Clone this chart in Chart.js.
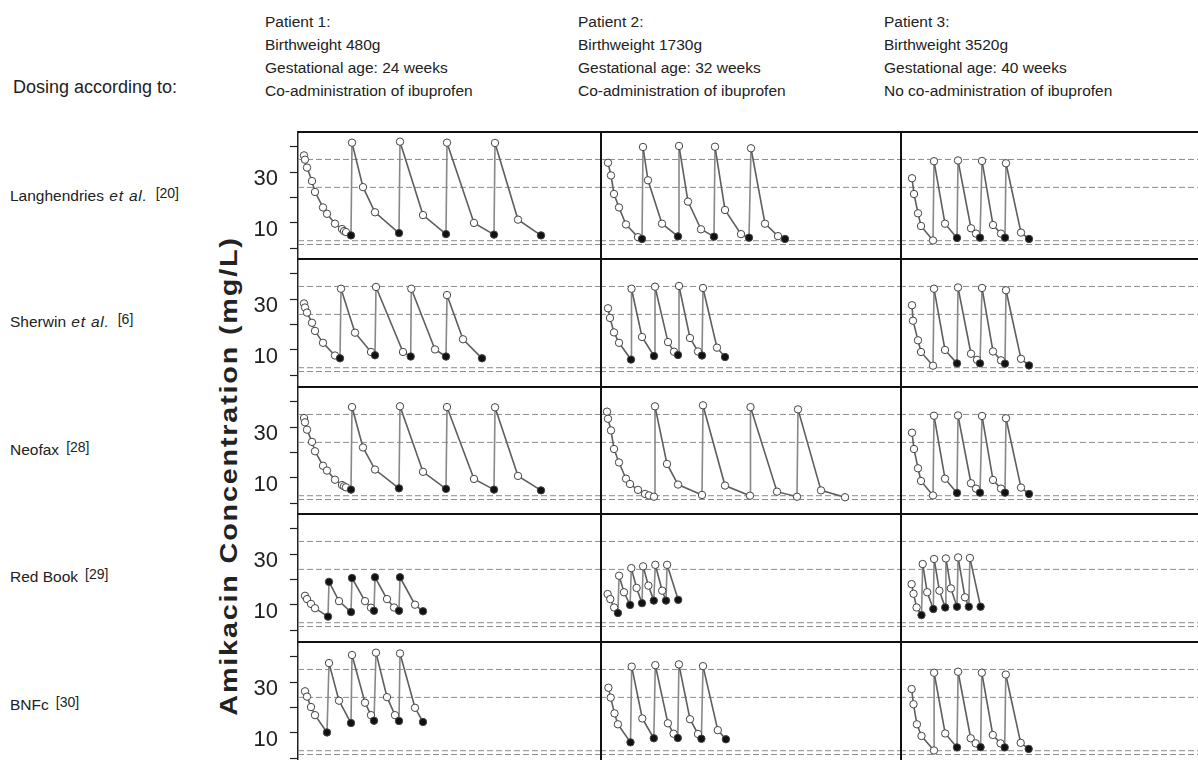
<!DOCTYPE html>
<html>
<head>
<meta charset="utf-8">
<script src="https://cdn.jsdelivr.net/npm/chart.js@4.4.1/dist/chart.umd.min.js"></script>
<style>
  body { margin: 0; width: 1198px; height: 760px; overflow: hidden; background: #fff;
         font-family: Arial, "Liberation Sans", sans-serif; color: #222; position: relative; }
  .hdr { position: absolute; top: 10px; font-size: 15.5px; line-height: 23px; white-space: nowrap; }
  .lab { position: absolute; left: 10px; font-size: 15.5px; white-space: nowrap; }
  .lab i { margin: 0 1px; letter-spacing: 0.8px; }
  .lab sup { font-size: 14px; vertical-align: 3px; margin-left: 7px; }
  .cell { position: absolute; }
  #ytitle { position: absolute; left: 229px; top: 476px; transform: translate(-50%, -50%) rotate(-90deg) scaleX(1.2);
            font-weight: bold; font-size: 24px; letter-spacing: 1.5px; white-space: nowrap; }
</style>
</head>
<body>
<div class="lab" style="left:13px;top:77px;font-size:18px">Dosing according to:</div>
<div class="hdr" style="left:265px">Patient 1:<br>Birthweight 480g<br>Gestational age: 24 weeks<br>Co-administration of ibuprofen</div>
<div class="hdr" style="left:578px">Patient 2:<br>Birthweight 1730g<br>Gestational age: 32 weeks<br>Co-administration of ibuprofen</div>
<div class="hdr" style="left:884px">Patient 3:<br>Birthweight 3520g<br>Gestational age: 40 weeks<br>No co-administration of ibuprofen</div>

<div class="lab" style="top:185px">Langhendries <i>et al.</i><sup>[20]</sup></div>
<div class="lab" style="top:311px">Sherwin <i>et al.</i><sup>[6]</sup></div>
<div class="lab" style="top:439px">Neofax<sup>[28]</sup></div>
<div class="lab" style="top:566px">Red Book<sup>[29]</sup></div>
<div class="lab" style="top:694px">BNFc<sup>[30]</sup></div>
<div id="ytitle">Amikacin Concentration (mg/L)</div>

<script>
// time since first dose (h) / amikacin concentration (mg/L) / indices of trough (filled) points
const langP1Hours = [6, 7, 9, 14, 17, 25, 29, 37, 44, 46, 48, 53, 54, 65, 77, 101, 102, 125, 148, 149, 176, 196, 197, 220, 243];
const langP1Conc  = [36.6, 34.9, 31.8, 26.5, 22.2, 16.1, 13.6, 9.7, 7.6, 6.8, 6.4, 5.1, 41.6, 24.1, 14.2, 6.0, 42.0, 13.1, 5.6, 41.6, 10.0, 5.4, 41.5, 11.3, 5.1];
const langP1Filled = [11, 15, 18, 21, 24];

const langP2Hours = [8, 11, 14, 19, 26, 38, 42, 43, 48, 62, 78, 79, 88, 101, 114, 115, 125, 141, 149, 151, 165, 178, 185];
const langP2Conc  = [33.7, 28.7, 21.4, 16.1, 9.4, 4.4, 3.7, 39.9, 26.8, 9.7, 4.7, 40.3, 18.4, 7.5, 4.6, 40.0, 15.1, 5.6, 4.2, 39.4, 9.7, 4.8, 3.7];
const langP2Filled = [6, 10, 14, 18, 22];

const langP3Hours = [12, 14, 18, 21, 33, 34, 45, 57, 58, 71, 76, 80, 82, 93, 101, 105, 106, 121, 129];
const langP3Conc  = [27.6, 21.4, 13.8, 8.8, 3.1, 34.3, 9.7, 4.1, 34.6, 7.9, 5.8, 4.2, 34.4, 9.2, 5.8, 4.2, 33.5, 6.2, 3.7];
const langP3Filled = [7, 11, 15, 18];

const sherP1Hours = [6, 7, 9, 14, 17, 25, 37, 42, 43, 57, 73, 77, 78, 105, 112.7, 113.3, 137, 148, 149, 165, 184];
const sherP1Conc  = [28.3, 26.7, 24.7, 20.7, 17.5, 12.8, 7.8, 6.7, 34.1, 16.8, 9.2, 7.9, 34.8, 9.2, 7.4, 34.1, 10.2, 7.4, 31.6, 14.2, 6.7];
const sherP1Filled = [7, 11, 14, 17, 20];

const sherP2Hours = [8, 10, 14, 19, 31, 31.5, 42, 54, 55, 68, 74, 78, 79, 90, 98, 102, 103, 117, 125];
const sherP2Conc  = [26.4, 22.6, 16.9, 12.8, 6.2, 34.1, 15.1, 7.6, 34.9, 13.1, 9.3, 8.0, 35.2, 14.7, 9.4, 7.8, 34.4, 10.9, 7.2];
const sherP2Filled = [4, 7, 11, 15, 18];

const sherP3Hours = [12, 13, 18, 21, 33, 34, 45, 57, 58, 71, 77, 80, 82, 93, 101, 105, 106, 121, 129];
const sherP3Conc  = [27.6, 21.5, 13.8, 9.2, 3.8, 34.1, 10.0, 4.7, 34.6, 8.5, 6.1, 4.7, 34.4, 9.4, 5.9, 4.6, 33.5, 6.5, 3.9];
const sherP3Filled = [7, 11, 15, 18];

const neoP1Hours = [6, 7, 9, 14, 17, 25, 29, 37, 44, 46, 48, 53, 54, 65, 77, 101, 102, 125, 148, 149, 176, 196, 197, 220, 243];
const neoP1Conc  = [33.6, 31.9, 29.0, 24.2, 20.5, 14.8, 12.9, 9.3, 7.2, 6.7, 6.3, 5.4, 37.9, 22.0, 13.3, 5.9, 38.2, 12.4, 5.7, 37.9, 9.6, 5.4, 37.8, 10.8, 5.1];
const neoP1Filled = [11, 15, 18, 21, 24];

const neoP2Hours = [7, 8, 11, 14, 19, 26, 30, 38, 45, 49, 54, 55, 67, 78, 102, 103, 125, 150, 150.5, 177, 197, 198, 221, 245];
const neoP2Conc  = [36.1, 33.3, 28.7, 21.4, 16.1, 9.7, 7.6, 5.3, 3.7, 3.1, 2.6, 38.2, 15.5, 7.4, 3.3, 38.6, 7.0, 3.0, 37.9, 4.6, 2.6, 37.0, 5.1, 2.4];
const neoP2Filled = [];

const neoP3Hours = [12, 14, 18, 21, 33, 34, 45, 57, 58, 71, 76, 80, 82, 93, 101, 105, 106, 121, 129];
const neoP3Conc  = [27.8, 21.4, 13.8, 8.8, 3.1, 34.5, 9.7, 4.1, 34.6, 7.9, 5.8, 4.2, 34.4, 9.2, 5.8, 4.2, 33.5, 6.2, 3.7];
const neoP3Filled = [7, 11, 15, 18];

const redP1Hours = [7, 9, 13, 17, 30, 31, 41, 53, 54, 67, 73, 76, 77, 89, 96, 101, 102, 117, 125];
const redP1Conc  = [13.6, 12.3, 10.4, 8.7, 5.4, 19.1, 11.5, 7.2, 20.6, 11.5, 8.9, 7.7, 20.9, 12.3, 9.0, 7.7, 20.9, 10.1, 7.5];
const redP1Filled = [4, 5, 7, 8, 11, 12, 15, 16, 18];

const redP2Hours = [7.6, 10.3, 14.1, 17.9, 19.1, 24, 30.1, 31.3, 36.6, 42, 43.1, 48.4, 53.8, 55.3, 62.2, 66, 67.1, 78.2];
const redP2Conc  = [14.3, 12.3, 9.0, 6.8, 21.5, 15.0, 10.0, 24.5, 16.7, 10.7, 25.2, 17.6, 11.7, 25.8, 15.6, 11.7, 25.8, 12.0];
const redP2Filled = [3, 6, 9, 12, 15, 17];

const redP3Hours = [11.6, 13.5, 16.6, 21.5, 22.7, 27.2, 33.3, 34.1, 39.4, 45.2, 45.9, 50.9, 57, 58.1, 65, 68.8, 69.9, 80.6];
const redP3Conc  = [18.2, 14.4, 9.0, 6.0, 26.1, 15.0, 8.4, 28.1, 15.6, 9.0, 28.3, 16.5, 9.3, 28.7, 13.0, 9.3, 28.5, 9.3];
const redP3Filled = [3, 6, 9, 12, 15, 17];

const bnfP1Hours = [7, 9, 13, 17, 29, 31, 41, 53, 54, 67, 73, 76, 78, 89, 97, 101, 102, 117, 125];
const bnfP1Conc  = [26.4, 24.3, 20.2, 17.0, 10.2, 37.5, 22.7, 13.9, 40.7, 21.9, 17.0, 14.8, 41.6, 24.1, 17.0, 14.7, 41.3, 19.9, 14.3];
const bnfP1Filled = [4, 7, 11, 15, 18];

const bnfP2Hours = [8.4, 10.7, 14.5, 17.9, 30.5, 31.7, 42.3, 53.8, 55.3, 67.9, 73.6, 77.8, 78.9, 90, 98, 101.4, 103, 117.8, 125.9];
const bnfP2Conc  = [27.8, 23.9, 17.7, 13.4, 6.3, 36.1, 15.7, 7.9, 36.7, 13.8, 9.7, 8.0, 37.0, 15.4, 9.6, 7.7, 36.3, 11.1, 7.5];
const bnfP2Filled = [4, 7, 11, 15, 18];

const bnfP3Hours = [11.6, 13.5, 16.9, 21.5, 34, 34.1, 45.2, 57, 58.1, 70.7, 75.7, 80.6, 81.8, 92.8, 100.5, 104.7, 105.8, 120.7, 128.7];
const bnfP3Conc  = [27.3, 21.3, 13.4, 8.8, 3.1, 33.7, 9.8, 4.3, 34.1, 7.9, 5.9, 4.4, 33.7, 9.2, 5.9, 4.3, 33.0, 6.1, 3.7];
const bnfP3Filled = [7, 11, 15, 18];

// target peak / trough limits (dashed)
const limitLines = [35, 24, 3, 1.5];
const yTicks = [0, 10, 20, 30, 40];
const yTickLabels = [10, 30];

const panels = [
  [[langP1Hours, langP1Conc, langP1Filled], [langP2Hours, langP2Conc, langP2Filled], [langP3Hours, langP3Conc, langP3Filled]],
  [[sherP1Hours, sherP1Conc, sherP1Filled], [sherP2Hours, sherP2Conc, sherP2Filled], [sherP3Hours, sherP3Conc, sherP3Filled]],
  [[neoP1Hours, neoP1Conc, neoP1Filled], [neoP2Hours, neoP2Conc, neoP2Filled], [neoP3Hours, neoP3Conc, neoP3Filled]],
  [[redP1Hours, redP1Conc, redP1Filled], [redP2Hours, redP2Conc, redP2Filled], [redP3Hours, redP3Conc, redP3Filled]],
  [[bnfP1Hours, bnfP1Conc, bnfP1Filled], [bnfP2Hours, bnfP2Conc, bnfP2Filled], [bnfP3Hours, bnfP3Conc, bnfP3Filled]]
];

// layout
const rowTops = [131, 258, 386, 513, 641];
const rowHeight = 128;
const colLefts = [240, 600, 900];
const colWidths = [360, 300, 298];
const axisWidth = 58;
const hoursShown = [302, 300, 298];
const Y_MIN = -4.2, Y_MAX = 46.2;

// black frame: top border of each row, left border of columns 2 and 3
const framePlugin = {
  id: 'frame',
  afterDraw(chart, args, opts) {
    const { ctx, chartArea: a } = chart;
    ctx.save();
    ctx.strokeStyle = '#111';
    ctx.lineWidth = 2;
    ctx.beginPath();
    ctx.moveTo(a.left, a.top + 1);
    ctx.lineTo(a.right, a.top + 1);
    if (opts.left) {
      ctx.moveTo(a.left + 1, a.top);
      ctx.lineTo(a.left + 1, a.bottom);
    }
    ctx.stroke();
    ctx.restore();
  }
};

panels.forEach((row, r) => {
  row.forEach(([hours, conc, filled], c) => {
    const box = document.createElement('div');
    box.className = 'cell';
    box.style.left = colLefts[c] + 'px';
    box.style.top = rowTops[r] + 'px';
    box.style.width = colWidths[c] + 'px';
    box.style.height = rowHeight + 'px';
    const canvas = document.createElement('canvas');
    box.appendChild(canvas);
    document.body.appendChild(box);

    const xMax = hoursShown[c];
    const dashed = limitLines.map(v => ({
      data: [{ x: 0, y: v }, { x: xMax, y: v }],
      borderColor: '#8c8c8c',
      borderWidth: 1,
      borderDash: [6, 3],
      pointRadius: 0,
      order: 2
    }));

    const yScale = {
      min: Y_MIN, max: Y_MAX,
      display: c === 0,
      afterBuildTicks: s => { s.ticks = yTicks.map(v => ({ value: v })); },
      ticks: {
        autoSkip: false,
        callback: v => yTickLabels.includes(v) ? String(v) : '',
        font: { size: 22, family: 'Arial, "Liberation Sans", sans-serif' },
        color: '#222',
        padding: 12,
        labelOffset: 7
      },
      grid: { drawOnChartArea: false, tickLength: 8, color: '#222', tickWidth: 1.2 },
      border: { color: '#222', width: 1.5 }
    };
    if (c === 0) {
      yScale.afterFit = s => { s.width = axisWidth; s.paddingTop = 0; s.paddingBottom = 0; };
    }

    new Chart(canvas, {
      type: 'line',
      data: {
        datasets: [...dashed, {
          data: hours.map((h, i) => ({ x: h, y: conc[i] })),
          borderColor: '#5e5e5e',
          borderWidth: 1.6,
          // the dose jumps (rising segments) are drawn lighter than the decay
          segment: { borderColor: s => s.p1.parsed.y > s.p0.parsed.y ? '#888' : undefined },
          pointRadius: 3.7,
          pointBorderWidth: 1,
          pointBorderColor: '#444',
          pointBackgroundColor: hours.map((h, i) => filled.includes(i) ? '#111' : '#fff'),
          order: 0
        }]
      },
      options: {
        responsive: true,
        maintainAspectRatio: false,
        animation: false,
        layout: { padding: 0, autoPadding: false },
        plugins: { legend: { display: false }, tooltip: { enabled: false }, frame: { left: c > 0 } },
        scales: {
          x: { type: 'linear', min: 0, max: xMax, display: false },
          y: yScale
        }
      },
      plugins: [framePlugin]
    });
  });
});
</script>
</body>
</html>
